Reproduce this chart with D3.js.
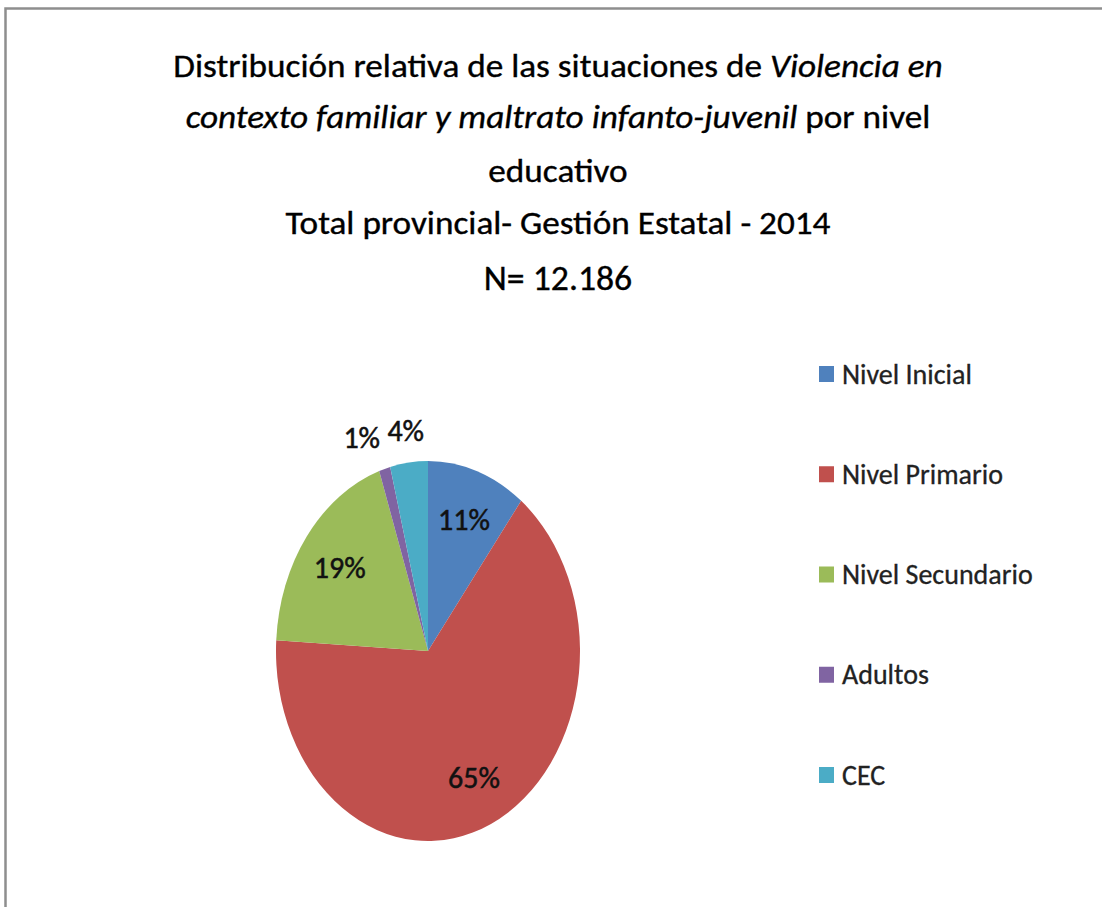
<!DOCTYPE html>
<html>
<head>
<meta charset="utf-8">
<script src="https://cdn.jsdelivr.net/npm/d3@7"></script>
<style>
  body { margin: 0; background: #fff; }
  text { font-family: Calibri, Carlito, Lato, "Noto Sans", sans-serif; fill: #000; }
</style>
</head>
<body>
<svg id="chart" width="1102" height="907"></svg>
<script>
// data
const categories = ["Nivel Inicial", "Nivel Primario", "Nivel Secundario", "Adultos", "CEC"];
const shares = [10.5, 65.4, 18.9, 1.2, 4.0];
const pctLabels = ["11%", "65%", "19%", "1%", "4%"];
const colors = ["#4F81BD", "#C0504D", "#9BBB59", "#8064A2", "#4BACC6"];
// title lines, each piece is [text, italic]
const titleLines = [
    [["Distribución relativa de las situaciones de ", false], ["Violencia en", true]],
    [["contexto familiar y maltrato infanto-juvenil", true], [" por nivel", false]],
    [["educativo", false]],
    [["Total provincial- Gestión Estatal - 2014", false]],
    [["N= 12.186", false]]
];

const svg = d3.select("#chart");
const stretch = 1.25; // the pie is drawn taller than wide

// frame (only top and left edges show)
svg.append("rect")
    .attr("x", 5.5).attr("y", 8.5)
    .attr("width", 1300).attr("height", 1100)
    .attr("fill", "none")
    .attr("stroke", "#8e8e8e")
    .attr("stroke-width", 2.5);

// title
const titleY = [77, 128, 182, 234, 290];
titleLines.forEach((parts, i) => {
    const t = svg.append("text")
        .attr("text-anchor", "middle")
        .attr("transform", `translate(558,${titleY[i]}) scale(${i == 4 ? 1.02 : 1.1},1)`)
        .style("font-size", i == 4 ? "35px" : "32px")
        .style("stroke", "#000")
        .style("stroke-width", 0.35);
    parts.forEach(p => {
        t.append("tspan")
            .style("font-style", p[1] ? "italic" : "normal")
            .text(p[0]);
    });
});

// pie
const cx = 428, cy = 651, r = 152;
const pie = d3.pie().sort(null).value(d => d);
const arcs = pie(shares);
const arc = d3.arc().innerRadius(0).outerRadius(r);

const pieG = svg.append("g")
    .attr("transform", `translate(${cx},${cy}) scale(1,${stretch})`);

pieG.selectAll("path")
    .data(arcs)
    .enter().append("path")
    .attr("d", arc)
    .attr("fill", (d, i) => colors[i]);

// label positions: inside for big slices, outside for small ones
const inArc = d3.arc().innerRadius(r * 0.73).outerRadius(r * 0.73);
const outArc = d3.arc().innerRadius(r * 1.17).outerRadius(r * 1.17);
const labelPos = arcs.map(a => {
    const c = (a.data < 5 ? outArc : inArc).centroid(a);
    return { x: cx + c[0], y: cy + c[1] * stretch, outside: a.data < 5 };
});
// push overlapping outside labels apart (walk right to left)
const labelW = 38;
for (let i = labelPos.length - 2; i >= 0; i--) {
    const a = labelPos[i], b = labelPos[i + 1];
    if (a.outside && b.outside && b.x - a.x < labelW + 6) {
        a.x = b.x - labelW - 6;
    }
}

svg.append("g").selectAll("text")
    .data(arcs)
    .enter().append("text")
    .attr("text-anchor", "middle")
    .attr("dominant-baseline", "central")
    .attr("x", (d, i) => labelPos[i].x)
    .attr("y", (d, i) => labelPos[i].y)
    .style("font-size", "30px")
    .style("fill", "#111")
    .style("stroke", "#111")
    .style("stroke-width", 0.5)
    .text((d, i) => pctLabels[i]);

// legend
const ly = d3.scalePoint().domain(categories).range([374, 775]);
const legend = svg.append("g").selectAll("g")
    .data(categories)
    .enter().append("g")
    .attr("transform", d => `translate(819,${ly(d)})`);

legend.append("rect")
    .attr("x", 0).attr("y", -8)
    .attr("width", 15).attr("height", 16)
    .attr("fill", (d, i) => colors[i]);

legend.append("text")
    .attr("x", 23)
    .attr("dominant-baseline", "central")
    .style("font-size", "28px")
    .style("fill", "#222")
    .style("stroke", "#222")
    .style("stroke-width", 0.3)
    .text(d => d);
</script>
</body>
</html>
